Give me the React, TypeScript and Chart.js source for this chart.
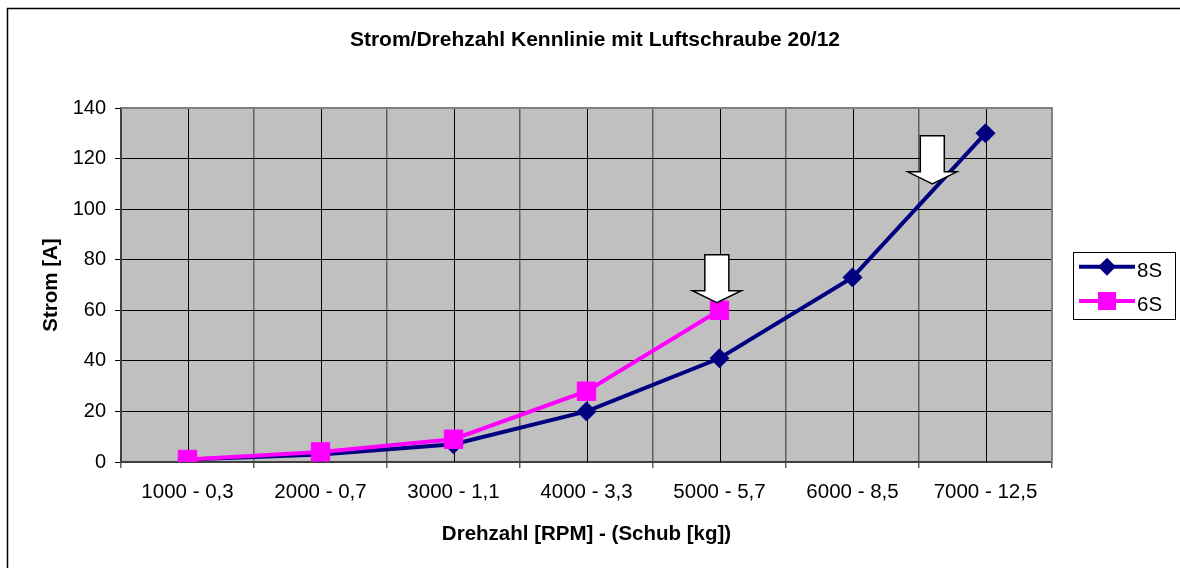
import React, { useEffect, useRef } from "react";
import { Chart, registerables } from "chart.js";

Chart.register(...registerables);

const categories = [
  "1000 - 0,3",
  "2000 - 0,7",
  "3000 - 1,1",
  "4000 - 3,3",
  "5000 - 5,7",
  "6000 - 8,5",
  "7000 - 12,5",
];
const series8S = [1, 3, 7, 20, 41, 73, 130];
const series6S = [1, 4, 9, 28, 60];
const yMin = 0;
const yMax = 140;
const yStep = 20;
const titleText = "Strom/Drehzahl Kennlinie mit Luftschraube 20/12";
const xTitleText = "Drehzahl [RPM] - (Schub [kg])";
const yTitleText = "Strom [A]";
const legendLabels = ["8S", "6S"];
// arrow annotations, tip positions in data coordinates (category index, value)
const arrowTipX = [3.98, 5.6];
const arrowTipY = [63, 110];

const NAVY = "#000080";
const MAGENTA = "#FF00FF";
const FONT = "'Liberation Sans', Arial, sans-serif";

const drawDiamond = (ctx: CanvasRenderingContext2D, x: number, y: number, r: number, color: string) => {
  ctx.beginPath();
  ctx.moveTo(x - r, y);
  ctx.lineTo(x, y - r);
  ctx.lineTo(x + r, y);
  ctx.lineTo(x, y + r);
  ctx.closePath();
  ctx.fillStyle = color;
  ctx.fill();
};

const decoPlugin = {
  id: "deco",
  beforeDraw(chart: any) {
    const { ctx, chartArea: a } = chart;
    ctx.save();
    ctx.fillStyle = "#FFFFFF";
    ctx.fillRect(0, 0, chart.width, chart.height);
    ctx.fillStyle = "#C0C0C0";
    ctx.fillRect(a.left, a.top, a.right - a.left, a.bottom - a.top);
    ctx.strokeStyle = "#000";
    ctx.lineWidth = 1.5;
    ctx.beginPath();
    ctx.moveTo(7.5, chart.height + 2);
    ctx.lineTo(7.5, 8.5);
    ctx.lineTo(chart.width + 2, 8.5);
    ctx.stroke();
    ctx.restore();
  },
  beforeDatasetsDraw(chart: any) {
    const { ctx, chartArea: a } = chart;
    const xs = chart.scales.x;
    ctx.save();
    ctx.strokeStyle = "#000";
    ctx.lineWidth = 1;
    categories.forEach((_, i) => {
      const px = Math.round(xs.getPixelForValue(i)) + 0.5;
      ctx.beginPath();
      ctx.moveTo(px, a.top);
      ctx.lineTo(px, a.bottom);
      ctx.stroke();
    });
    ctx.strokeStyle = "#808080";
    ctx.lineWidth = 2;
    ctx.beginPath();
    ctx.moveTo(a.left, a.top);
    ctx.lineTo(a.right, a.top);
    ctx.lineTo(a.right, a.bottom);
    ctx.stroke();
    ctx.restore();
  },
  afterDatasetsDraw(chart: any) {
    const { ctx } = chart;
    const xs = chart.scales.x;
    const ys = chart.scales.y;
    ctx.save();
    arrowTipX.forEach((vx, i) => {
      const tx = xs.getPixelForValue(vx);
      const ty = ys.getPixelForValue(arrowTipY[i]);
      const shaftHalf = 12;
      const headHalf = 24.5;
      const headLen = 12;
      const shaftLen = 36;
      ctx.beginPath();
      ctx.moveTo(tx, ty);
      ctx.lineTo(tx - headHalf, ty - headLen);
      ctx.lineTo(tx - shaftHalf, ty - headLen);
      ctx.lineTo(tx - shaftHalf, ty - headLen - shaftLen);
      ctx.lineTo(tx + shaftHalf, ty - headLen - shaftLen);
      ctx.lineTo(tx + shaftHalf, ty - headLen);
      ctx.lineTo(tx + headHalf, ty - headLen);
      ctx.closePath();
      ctx.fillStyle = "#FFFFFF";
      ctx.fill();
      ctx.strokeStyle = "#000";
      ctx.lineWidth = 1.5;
      ctx.lineJoin = "miter";
      ctx.stroke();
    });
    ctx.restore();
  },
  afterDraw(chart: any) {
    const { ctx, chartArea: a } = chart;
    ctx.save();
    ctx.fillStyle = "#000";
    ctx.textBaseline = "alphabetic";
    // title
    ctx.font = `bold 21px ${FONT}`;
    ctx.textAlign = "center";
    ctx.fillText(titleText, 595, 46);
    // x title
    ctx.font = `bold 20.5px ${FONT}`;
    ctx.fillText(xTitleText, (a.left + a.right) / 2, 540);
    // y title
    ctx.save();
    ctx.translate(57, (a.top + a.bottom) / 2);
    ctx.rotate(-Math.PI / 2);
    ctx.fillText(yTitleText, 0, 0);
    ctx.restore();
    // legend
    ctx.fillStyle = "#FFFFFF";
    ctx.fillRect(1073.5, 252.5, 102, 67);
    ctx.strokeStyle = "#000";
    ctx.lineWidth = 1;
    ctx.strokeRect(1073.5, 252.5, 102, 67);
    const rows = [266.7, 301];
    const colors = [NAVY, MAGENTA];
    rows.forEach((ry, i) => {
      ctx.strokeStyle = colors[i];
      ctx.lineWidth = 4;
      ctx.beginPath();
      ctx.moveTo(1079, ry);
      ctx.lineTo(1135, ry);
      ctx.stroke();
      if (i === 0) {
        drawDiamond(ctx, 1107, ry, 9, NAVY);
      } else {
        ctx.fillStyle = MAGENTA;
        ctx.fillRect(1107 - 9, ry - 9, 18, 18);
      }
      ctx.fillStyle = "#000";
      ctx.font = `20.5px ${FONT}`;
      ctx.textAlign = "left";
      ctx.fillText(legendLabels[i], 1137, ry + 10);
    });
    ctx.restore();
  },
};

export default function App() {
  const ref = useRef<HTMLCanvasElement>(null);
  useEffect(() => {
    if (!ref.current) return;
    const chart = new Chart(ref.current, {
      type: "line",
      data: {
        labels: categories,
        datasets: [
          {
            label: legendLabels[0],
            data: series8S,
            borderColor: NAVY,
            backgroundColor: NAVY,
            borderWidth: 4,
            pointStyle: "rectRot",
            pointRadius: 9.5,
            pointBorderWidth: 1,
            pointBorderColor: NAVY,
            pointBackgroundColor: NAVY,
            tension: 0,
            order: 1,
          },
          {
            label: legendLabels[1],
            data: series6S,
            borderColor: MAGENTA,
            backgroundColor: MAGENTA,
            borderWidth: 4,
            pointStyle: "rect",
            pointRadius: 13,
            pointBorderWidth: 1,
            pointBorderColor: MAGENTA,
            pointBackgroundColor: MAGENTA,
            tension: 0,
            order: 0,
          },
        ],
      },
      options: {
        responsive: false,
        animation: false,
        layout: { padding: { left: 0, right: 128, top: 108, bottom: 0 } },
        plugins: {
          legend: { display: false },
          title: { display: false },
          tooltip: { enabled: false },
        },
        scales: {
          x: {
            type: "category",
            offset: true,
            afterFit: (s: any) => {
              s.height = 106;
            },
            grid: {
              offset: true,
              color: "#606060",
              lineWidth: 1.5,
              tickLength: 6,
              drawOnChartArea: true,
            },
            border: { display: true, color: "#404040", width: 2 },
            ticks: {
              color: "#000",
              font: { family: FONT, size: 20.5 },
              padding: 12,
              maxRotation: 0,
              autoSkip: false,
            },
          },
          y: {
            min: yMin,
            max: yMax,
            afterFit: (s: any) => {
              s.width = 121;
            },
            grid: { color: "#000", lineWidth: 1, tickLength: 6 },
            border: { display: true, color: "#404040", width: 2 },
            ticks: {
              stepSize: yStep,
              color: "#000",
              font: { family: FONT, size: 20 },
              padding: 9,
            },
          },
        },
      },
      plugins: [decoPlugin],
    });
    return () => chart.destroy();
  }, []);
  return (
    <div style={{ position: "fixed", left: 0, top: 0, width: 1180, height: 568 }}>
      <canvas ref={ref} width={1180} height={568} style={{ display: "block" }} />
    </div>
  );
}
